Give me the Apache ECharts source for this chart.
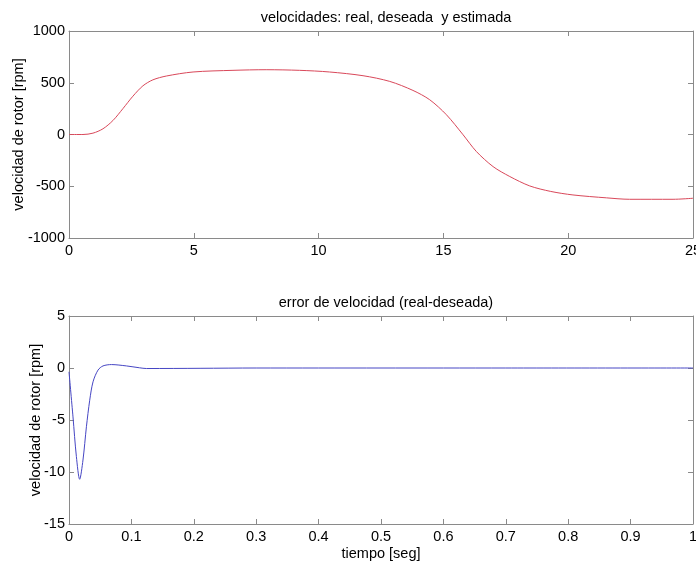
<!DOCTYPE html>
<html>
<head>
<meta charset="utf-8">
<script src="https://cdn.jsdelivr.net/npm/echarts@6/dist/echarts.min.js"></script>
<style>html,body{margin:0;padding:0;background:#fff}#c{width:696px;height:563px}</style>
</head>
<body>
<div id="c"></div>
<script>
// Top plot: rotor speed vs time
var topTime = [0, 0.56, 0.96, 1.36, 1.76, 2.16, 2.56, 2.96, 3.36, 3.9, 4.97, 6.57, 7.9, 9.24, 10.44, 11.78, 12.85, 13.78, 14.45, 15.12, 15.79, 16.32, 16.99, 17.66, 18.46, 19.3, 20.19, 21.53, 22.46, 24.2, 25];
var topSpeed = [0, 0, 13, 55, 135, 250, 370, 470, 528, 565, 604, 620, 626, 620, 604, 568, 513, 426, 336, 191, -3, -164, -310, -406, -497, -550, -584, -612, -626, -626, -616];
// Bottom plot: speed error vs time
var errTime = [0, 0.0064, 0.0118, 0.0171, 0.0224, 0.0279, 0.0332, 0.0385, 0.0465, 0.0545, 0.068, 0.092, 0.113, 0.124, 0.21, 0.3, 0.5, 0.7, 1.0];
var errSpeed = [-0.37, -4.7, -8.5, -10.7, -8.85, -5.65, -3.1, -1.33, -0.2, 0.2, 0.33, 0.2, 0.02, -0.05, -0.03, 0, 0, 0, 0];

var topXTicks = [0, 25, 5];
var topYTicks = [-1000, 1000, 500];
var botXTicks = [0, 1, 0.1];
var botYTicks = [-15, 5, 5];

function zip(a, b) { return a.map(function (v, i) { return [v, b[i]]; }); }

var FONT = 'Arial, "Liberation Sans", sans-serif';
var FS = 14.5;
var axisCol = '#8a8a8a';

function fmt(v) { return String(+v.toFixed(2)); }

function xAx(grid, ticks, show, pos, name) {
  return {
    type: 'value', gridIndex: grid, min: ticks[0], max: ticks[1], interval: ticks[2], position: pos,
    axisLine: { show: true, onZero: false, lineStyle: { color: axisCol, width: 1 } },
    axisTick: { show: true, inside: true, length: 5, lineStyle: { color: axisCol } },
    axisLabel: { show: show, color: '#000', fontSize: FS, fontFamily: FONT, margin: 5, formatter: fmt },
    splitLine: { show: false },
    name: name || '', nameLocation: 'middle', nameGap: 22,
    nameTextStyle: { color: '#000', fontSize: FS, fontFamily: FONT }
  };
}
function yAx(grid, ticks, show, pos, name, gap) {
  return {
    type: 'value', gridIndex: grid, min: ticks[0], max: ticks[1], interval: ticks[2], position: pos,
    axisLine: { show: true, onZero: false, lineStyle: { color: axisCol, width: 1 } },
    axisTick: { show: true, inside: true, length: 5, lineStyle: { color: axisCol } },
    axisLabel: { show: show, color: '#000', fontSize: FS, fontFamily: FONT, margin: 4, formatter: fmt },
    splitLine: { show: false },
    name: name || '', nameLocation: 'middle', nameGap: gap || 40, nameMoveOverlap: false,
    nameTextStyle: { color: '#000', fontSize: FS, fontFamily: FONT }
  };
}

var chart = echarts.init(document.getElementById('c'), null, { renderer: 'canvas' });
chart.setOption({
  animation: false,
  backgroundColor: '#fff',
  title: [
    { text: 'velocidades: real, deseada  y estimada', left: 381, top: 5, textAlign: 'center',
      textStyle: { fontSize: FS, fontWeight: 'normal', color: '#000', fontFamily: FONT } },
    { text: 'error de velocidad (real-deseada)', left: 381, top: 290, textAlign: 'center',
      textStyle: { fontSize: FS, fontWeight: 'normal', color: '#000', fontFamily: FONT } }
  ],
  grid: [
    { left: 69, top: 31, width: 624, height: 207, containLabel: false, outerBoundsMode: 'none' },
    { left: 69, top: 316, width: 624, height: 208, containLabel: false, outerBoundsMode: 'none' }
  ],
  xAxis: [
    xAx(0, topXTicks, true, 'bottom'),
    xAx(0, topXTicks, false, 'top'),
    xAx(1, botXTicks, true, 'bottom', 'tiempo [seg]'),
    xAx(1, botXTicks, false, 'top')
  ],
  yAxis: [
    yAx(0, topYTicks, true, 'left', 'velocidad de rotor [rpm]', 43),
    yAx(0, topYTicks, false, 'right'),
    yAx(1, botYTicks, true, 'left', 'velocidad de rotor [rpm]', 26),
    yAx(1, botYTicks, false, 'right')
  ],
  series: [
    { type: 'line', xAxisIndex: 0, yAxisIndex: 0, data: zip(topTime, topSpeed), smooth: 0.3,
      showSymbol: false, lineStyle: { color: '#d9485a', width: 1 } },
    { type: 'line', xAxisIndex: 2, yAxisIndex: 2, data: zip(errTime, errSpeed), smooth: 0.3,
      showSymbol: false, lineStyle: { color: '#4646c4', width: 1 } }
  ]
});
</script>
</body>
</html>
